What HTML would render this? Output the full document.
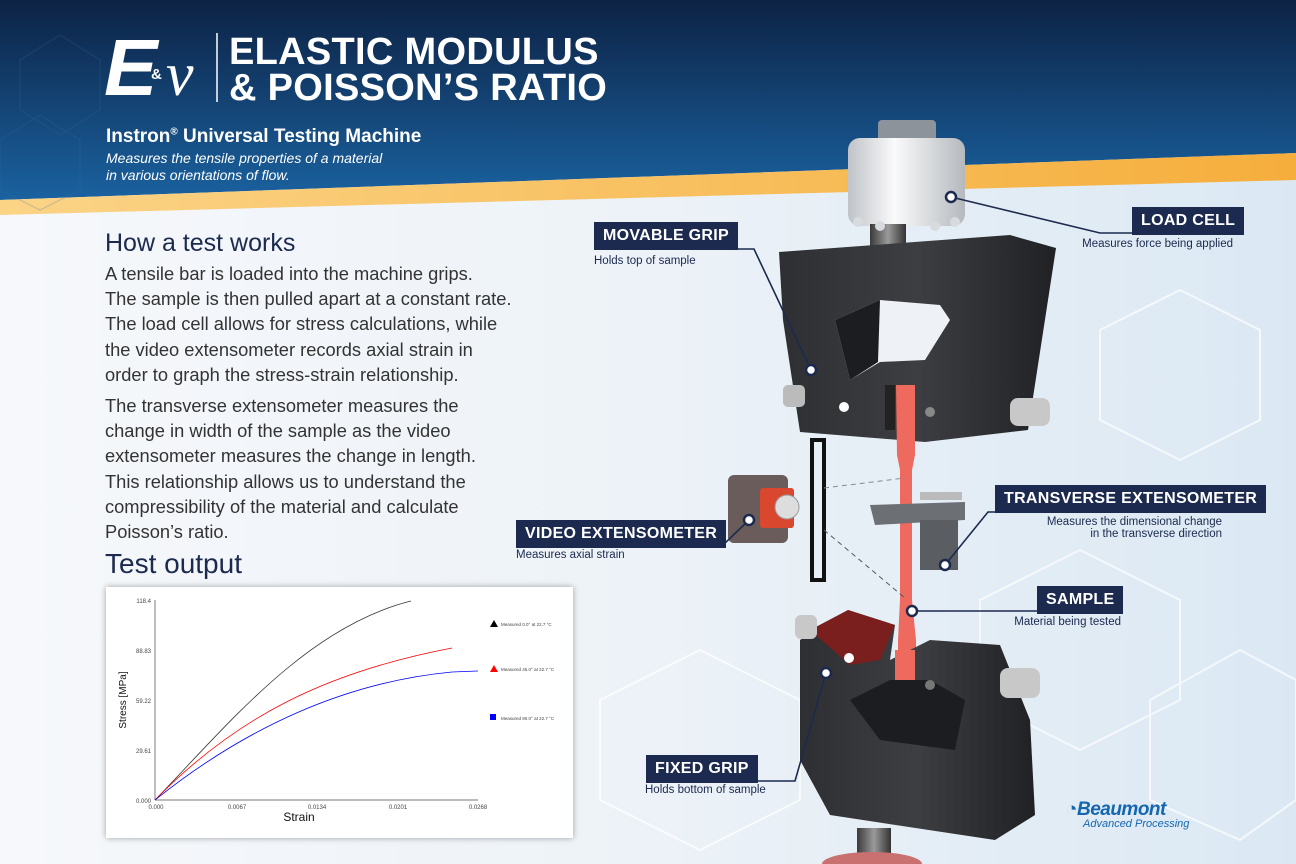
<!DOCTYPE html>
<html><head><meta charset="utf-8"><style>
html,body{margin:0;padding:0}
body{width:1296px;height:864px;position:relative;overflow:hidden;font-family:"Liberation Sans",sans-serif;background:linear-gradient(90deg,#f6f8fb 0%,#eef3f8 45%,#dbe8f3 100%)}
.abs{position:absolute}
.lbl{position:absolute;background:#1b2a4e;color:#fff;font-weight:bold;font-size:16px;height:28px;line-height:28px;padding:0 9px;white-space:nowrap;letter-spacing:0.3px}
.sub{position:absolute;font-size:11.5px;color:#1b2a4e;white-space:nowrap;line-height:12px}
.body{position:absolute;left:105px;font-size:18.3px;color:#333;line-height:25.2px;white-space:nowrap}
</style></head><body>
<svg class="abs" style="left:0;top:0" width="1296" height="864">
<defs>
<linearGradient id="hdr" x1="0" y1="0" x2="0" y2="1"><stop offset="0" stop-color="#0d2244"/><stop offset="1" stop-color="#1a62a0"/></linearGradient>
<linearGradient id="org" x1="0" y1="0" x2="1" y2="0"><stop offset="0" stop-color="#fbd487"/><stop offset="1" stop-color="#f5ae3c"/></linearGradient>
<linearGradient id="cyl" x1="0" y1="0" x2="1" y2="0"><stop offset="0" stop-color="#bfc3c8"/><stop offset=".4" stop-color="#fafafa"/><stop offset="1" stop-color="#b5b9be"/></linearGradient>
<linearGradient id="shaft" x1="0" y1="0" x2="1" y2="0"><stop offset="0" stop-color="#3a3a3a"/><stop offset=".5" stop-color="#9a9a9a"/><stop offset="1" stop-color="#333"/></linearGradient>
<linearGradient id="grip" x1="0" y1="0" x2="1" y2="0"><stop offset="0" stop-color="#2e2f33"/><stop offset=".5" stop-color="#3d3e42"/><stop offset="1" stop-color="#202124"/></linearGradient>
</defs>
<g fill="none" stroke="#ffffff" stroke-width="2" opacity=".7">
<polygon points="1100,330 1180,290 1260,330 1260,420 1180,460 1100,420"/>
<polygon points="980,600 1080,550 1180,600 1180,700 1080,750 980,700"/>
<polygon points="600,700 700,650 800,700 800,800 700,850 600,800"/>
<polygon points="1150,700 1240,650 1296,680 1296,800 1240,840 1150,800"/>
</g>
<polygon points="0,0 1296,0 1296,153 0,200" fill="url(#hdr)"/>
<polygon points="0,200 1296,153 1296,180 0,215" fill="url(#org)"/>
<g fill="none" stroke="#3b6a9c" stroke-width="1.5" opacity=".2">
<polygon points="20,60 60,35 100,60 100,110 60,135 20,110"/>
<polygon points="0,140 40,115 80,140 80,190 40,210 0,190"/>
</g>
<rect x="878" y="120" width="58" height="22" rx="4" fill="#8c939b"/>
<rect x="848" y="138" width="117" height="88" rx="12" fill="url(#cyl)"/>
<rect x="870" y="224" width="36" height="24" fill="url(#shaft)"/>
<g fill="#d8dbde"><circle cx="858" cy="222" r="5"/><circle cx="955" cy="222" r="5"/><circle cx="880" cy="226" r="5"/><circle cx="935" cy="226" r="5"/></g>
<polygon points="779,252 1010,235 1056,248 1048,300 1028,430 925,442 800,432 783,320" fill="url(#grip)"/>
<polygon points="835,320 880,300 940,305 950,320 925,360 880,362 850,380" fill="#eef2f6"/>
<polygon points="835,320 880,300 878,362 850,380" fill="#1c1d20"/>
<rect x="783" y="385" width="22" height="22" rx="5" fill="#bbb"/>
<rect x="1010" y="398" width="40" height="28" rx="8" fill="#c8c8c8"/>
<circle cx="844" cy="407" r="5" fill="#fff"/><circle cx="930" cy="412" r="5" fill="#888"/>
<polygon points="896,385 915,385 915,455 912,470 912,600 916,640 916,680 898,680 898,640 900,600 900,470 897,455" fill="#ef6a5e"/>
<rect x="885" y="385" width="10" height="45" fill="#222"/>
<rect x="728" y="475" width="60" height="68" rx="6" fill="#6a5c5a"/>
<rect x="760" y="488" width="34" height="40" rx="3" fill="#d9472f"/>
<circle cx="787" cy="507" r="12" fill="#ddd" stroke="#999"/>
<rect x="812" y="440" width="12" height="140" fill="none" stroke="#111" stroke-width="4"/>
<line x1="824" y1="488" x2="905" y2="478" stroke="#889" stroke-dasharray="5,4"/>
<line x1="824" y1="530" x2="905" y2="598" stroke="#556" stroke-dasharray="5,4"/>
<polygon points="870,505 965,502 965,520 875,525" fill="#6c6f74"/>
<rect x="920" y="520" width="38" height="50" fill="#5a5d62"/>
<rect x="920" y="492" width="42" height="8" fill="#bbb"/>
<polygon points="800,640 848,610 895,625 890,660 930,640 1000,645 1030,720 1035,815 995,840 830,815 800,760" fill="url(#grip)"/>
<polygon points="810,630 848,610 895,625 880,660 850,665" fill="#7a1e1e"/>
<polygon points="850,700 890,680 930,680 965,700 955,750 880,740" fill="#1c1d20"/>
<rect x="795" y="615" width="22" height="24" rx="6" fill="#c8c8c8"/>
<rect x="1000" y="668" width="40" height="30" rx="8" fill="#c8c8c8"/>
<circle cx="849" cy="658" r="5" fill="#fff"/><circle cx="930" cy="685" r="5" fill="#777"/>
<rect x="895" y="650" width="20" height="30" fill="#ef6a5e"/>
<rect x="857" y="828" width="34" height="40" fill="url(#shaft)"/>
<ellipse cx="872" cy="864" rx="50" ry="12" fill="#c97070"/>
<g stroke="#1b2a4e" stroke-width="1.6" fill="none">
<polyline points="951,197 1100,233 1132,233"/>
<polyline points="731,249 754,249 811,370"/>
<polyline points="706,546 722,546 749,520"/>
<polyline points="995,512 988,512 945,565"/>
<polyline points="912,611 1037,611"/>
<polyline points="749,781 795,781 826,673"/>
</g>
<g fill="#fff" stroke="#1b2a4e" stroke-width="2.5">
<circle cx="951" cy="197" r="5"/><circle cx="811" cy="370" r="5"/><circle cx="749" cy="520" r="5"/>
<circle cx="945" cy="565" r="5"/><circle cx="912" cy="611" r="5"/><circle cx="826" cy="673" r="5"/>
</g>
<line x1="217" y1="33" x2="217" y2="102" stroke="#fff" stroke-width="1.5"/>
</svg>

<div class="abs" style="left:104px;top:28px;color:#fff;font-size:80px;font-style:italic;font-weight:bold;line-height:80px;letter-spacing:-2px">E</div>
<div class="abs" style="left:151px;top:66px;color:#fff;font-size:15px;font-weight:bold">&amp;</div>
<div class="abs" style="left:166px;top:40px;color:#fff;font-size:62px;font-style:italic;font-family:'Liberation Serif',serif;line-height:70px">ν</div>
<div class="abs" style="left:229px;top:34px;color:#fff;font-size:38px;font-weight:bold;line-height:36px;letter-spacing:0.3px">ELASTIC MODULUS<br>&amp; POISSON’S RATIO</div>
<div class="abs" style="left:106px;top:126px;color:#fff;font-size:19px;font-weight:bold">Instron<sup style="font-size:10px">®</sup> Universal Testing Machine</div>
<div class="abs" style="left:106px;top:150px;color:#fff;font-size:14px;font-style:italic;line-height:17px">Measures the tensile properties of a material<br>in various orientations of flow.</div>

<div class="abs" style="left:105px;top:229px;font-size:25px;color:#1b2a4e">How a test works</div>
<div class="body" style="top:261px">A tensile bar is loaded into the machine grips.<br>The sample is then pulled apart at a constant rate.<br>The load cell allows for stress calculations, while<br>the video extensometer records axial strain in<br>order to graph the stress-strain relationship.</div>
<div class="body" style="top:393px">The transverse extensometer measures the<br>change in width of the sample as the video<br>extensometer measures the change in length.<br>This relationship allows us to understand the<br>compressibility of the material and calculate<br>Poisson’s ratio.</div>
<div class="abs" style="left:105px;top:548px;font-size:28px;color:#1b2a4e">Test output</div>

<svg class="abs" style="left:106px;top:587px;box-shadow:0 0 6px rgba(0,0,0,.35);background:#fff" width="467" height="251">
<g font-size="6" fill="#444" font-family="Liberation Sans,sans-serif">
<line x1="49" y1="13" x2="49" y2="213" stroke="#aaa" stroke-width="1.5"/>
<line x1="49" y1="213" x2="372" y2="213" stroke="#777"/>
<text x="45" y="16" text-anchor="end">118.4</text><text x="45" y="66" text-anchor="end">88.83</text>
<text x="45" y="116" text-anchor="end">59.22</text><text x="45" y="166" text-anchor="end">29.61</text><text x="45" y="216" text-anchor="end">0.000</text>
<text x="50" y="222" text-anchor="middle">0.000</text><text x="131" y="222" text-anchor="middle">0.0067</text>
<text x="211" y="222" text-anchor="middle">0.0134</text><text x="292" y="222" text-anchor="middle">0.0201</text><text x="372" y="222" text-anchor="middle">0.0268</text>
<text x="193" y="234" font-size="12" text-anchor="middle" fill="#111">Strain</text>
<text transform="translate(20,113) rotate(-90)" font-size="10" text-anchor="middle" fill="#111">Stress [MPa]</text>
<path d="M49,213 C120,140 200,40 305,14" fill="none" stroke="#333" stroke-width=".8"/>
<path d="M49,213 C130,130 220,85 346,61" stroke="red" fill="none" stroke-width=".8"/>
<path d="M49,213 C140,140 240,95 346,85 L372,84" stroke="blue" fill="none" stroke-width=".8"/>
<polygon points="388,33 392,40 384,40" fill="#000"/><text x="395" y="39" font-size="4.5">Measured 0.0° at 22.7 °C</text>
<polygon points="388,78 392,85 384,85" fill="red"/><text x="395" y="84" font-size="4.5">Measured 45.0° at 22.7 °C</text>
<rect x="384" y="127" width="6" height="6" fill="blue"/><text x="395" y="133" font-size="4.5">Measured 90.0° at 22.7 °C</text>
</g></svg>

<div class="lbl" style="left:594px;top:222px">MOVABLE GRIP</div><div class="sub" style="left:594px;top:255px">Holds top of sample</div>
<div class="lbl" style="left:1132px;top:207px">LOAD CELL</div><div class="sub" style="right:63px;top:238px">Measures force being applied</div>
<div class="lbl" style="left:995px;top:485px">TRANSVERSE EXTENSOMETER</div><div class="sub" style="right:74px;top:516px;text-align:right">Measures the dimensional change<br>in the transverse direction</div>
<div class="lbl" style="left:516px;top:520px">VIDEO EXTENSOMETER</div><div class="sub" style="left:516px;top:549px">Measures axial strain</div>
<div class="lbl" style="left:1037px;top:586px">SAMPLE</div><div class="sub" style="right:175px;top:616px">Material being tested</div>
<div class="lbl" style="left:646px;top:755px">FIXED GRIP</div><div class="sub" style="left:645px;top:784px">Holds bottom of sample</div>

<div class="abs" style="left:1066px;top:799px;color:#1566b0;font-size:19px;font-weight:bold;font-style:italic;letter-spacing:-0.5px">◔Beaumont</div>
<div class="abs" style="left:1083px;top:818px;color:#1566b0;font-size:11px;font-style:italic">Advanced Processing</div>
</body></html>
